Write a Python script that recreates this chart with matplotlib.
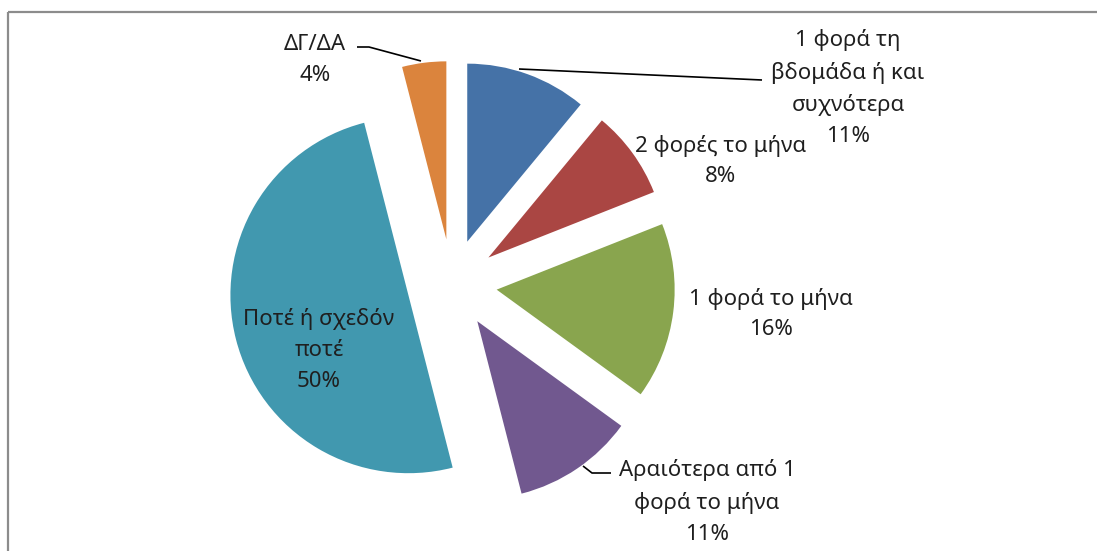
import matplotlib.pyplot as plt
from matplotlib.patches import Rectangle

# ---------------------------------------------------------------------------
# Data
# ---------------------------------------------------------------------------

categories = [
    "1 φορά τη\nβδομάδα ή και\nσυχνότερα",
    "2 φορές το μήνα",
    "1 φορά το μήνα",
    "Αραιότερα από 1\nφορά το μήνα",
    "Ποτέ ή σχεδόν\nποτέ",
    "ΔΓ/ΔΑ",
]
shares = [11, 8, 16, 11, 50, 4]

COLORS = ["#4572A7", "#AA4643", "#89A54E", "#71588F", "#4198AF", "#DB843D"]

# label centres in pixel coordinates (y grows downward)
LABEL_POS = [(848, 88), (721, 161), (771, 314), (707, 502), (319, 350), (315, 60)]

# leader lines (pixel coordinates)
LEADERS = {
    0: [(519, 69), (762, 80)],
    3: [(583, 466), (592, 473), (611, 473)],
    5: [(357, 47), (369, 47), (421, 61)],
}

W, H = 1097, 551
CENTER = (452, 284)
RADIUS = 178
EXPLODE_PX = 45  # pie() takes the offset in data units, i.e. pixels here

plt.rcParams["font.family"] = ["Noto Sans", "DejaVu Sans"]

fig = plt.figure(figsize=(W / 100, H / 100), dpi=100)
ax = fig.add_axes([0, 0, 1, 1])

# y axis inverted: startangle -90 points up, counterclock draws clockwise on screen
ax.pie(
    shares,
    colors=COLORS,
    startangle=-90,
    counterclock=True,
    radius=RADIUS,
    center=CENTER,
    explode=[EXPLODE_PX] * len(shares),
    wedgeprops=dict(linewidth=0),
    frame=True,
)
ax.set_xlim(0, W)
ax.set_ylim(H, 0)
ax.set_aspect("auto")
ax.axis("off")

for (x, y), name, val in zip(LABEL_POS, categories, shares):
    ax.text(x, y, f"{name}\n{val}%", ha="center", va="center",
            fontsize=16, color="#1f1f1f", linespacing=1.62)

for pts in LEADERS.values():
    xs, ys = zip(*pts)
    ax.plot(xs, ys, color="black", linewidth=1.2, solid_capstyle="butt")

# chart-area border (only top and left visible in the crop)
ax.add_patch(Rectangle((8, 12), W + 20, H + 20, fill=False,
                       edgecolor="#8c8c8c", linewidth=1.6))

fig.savefig("out.png", dpi=100)
